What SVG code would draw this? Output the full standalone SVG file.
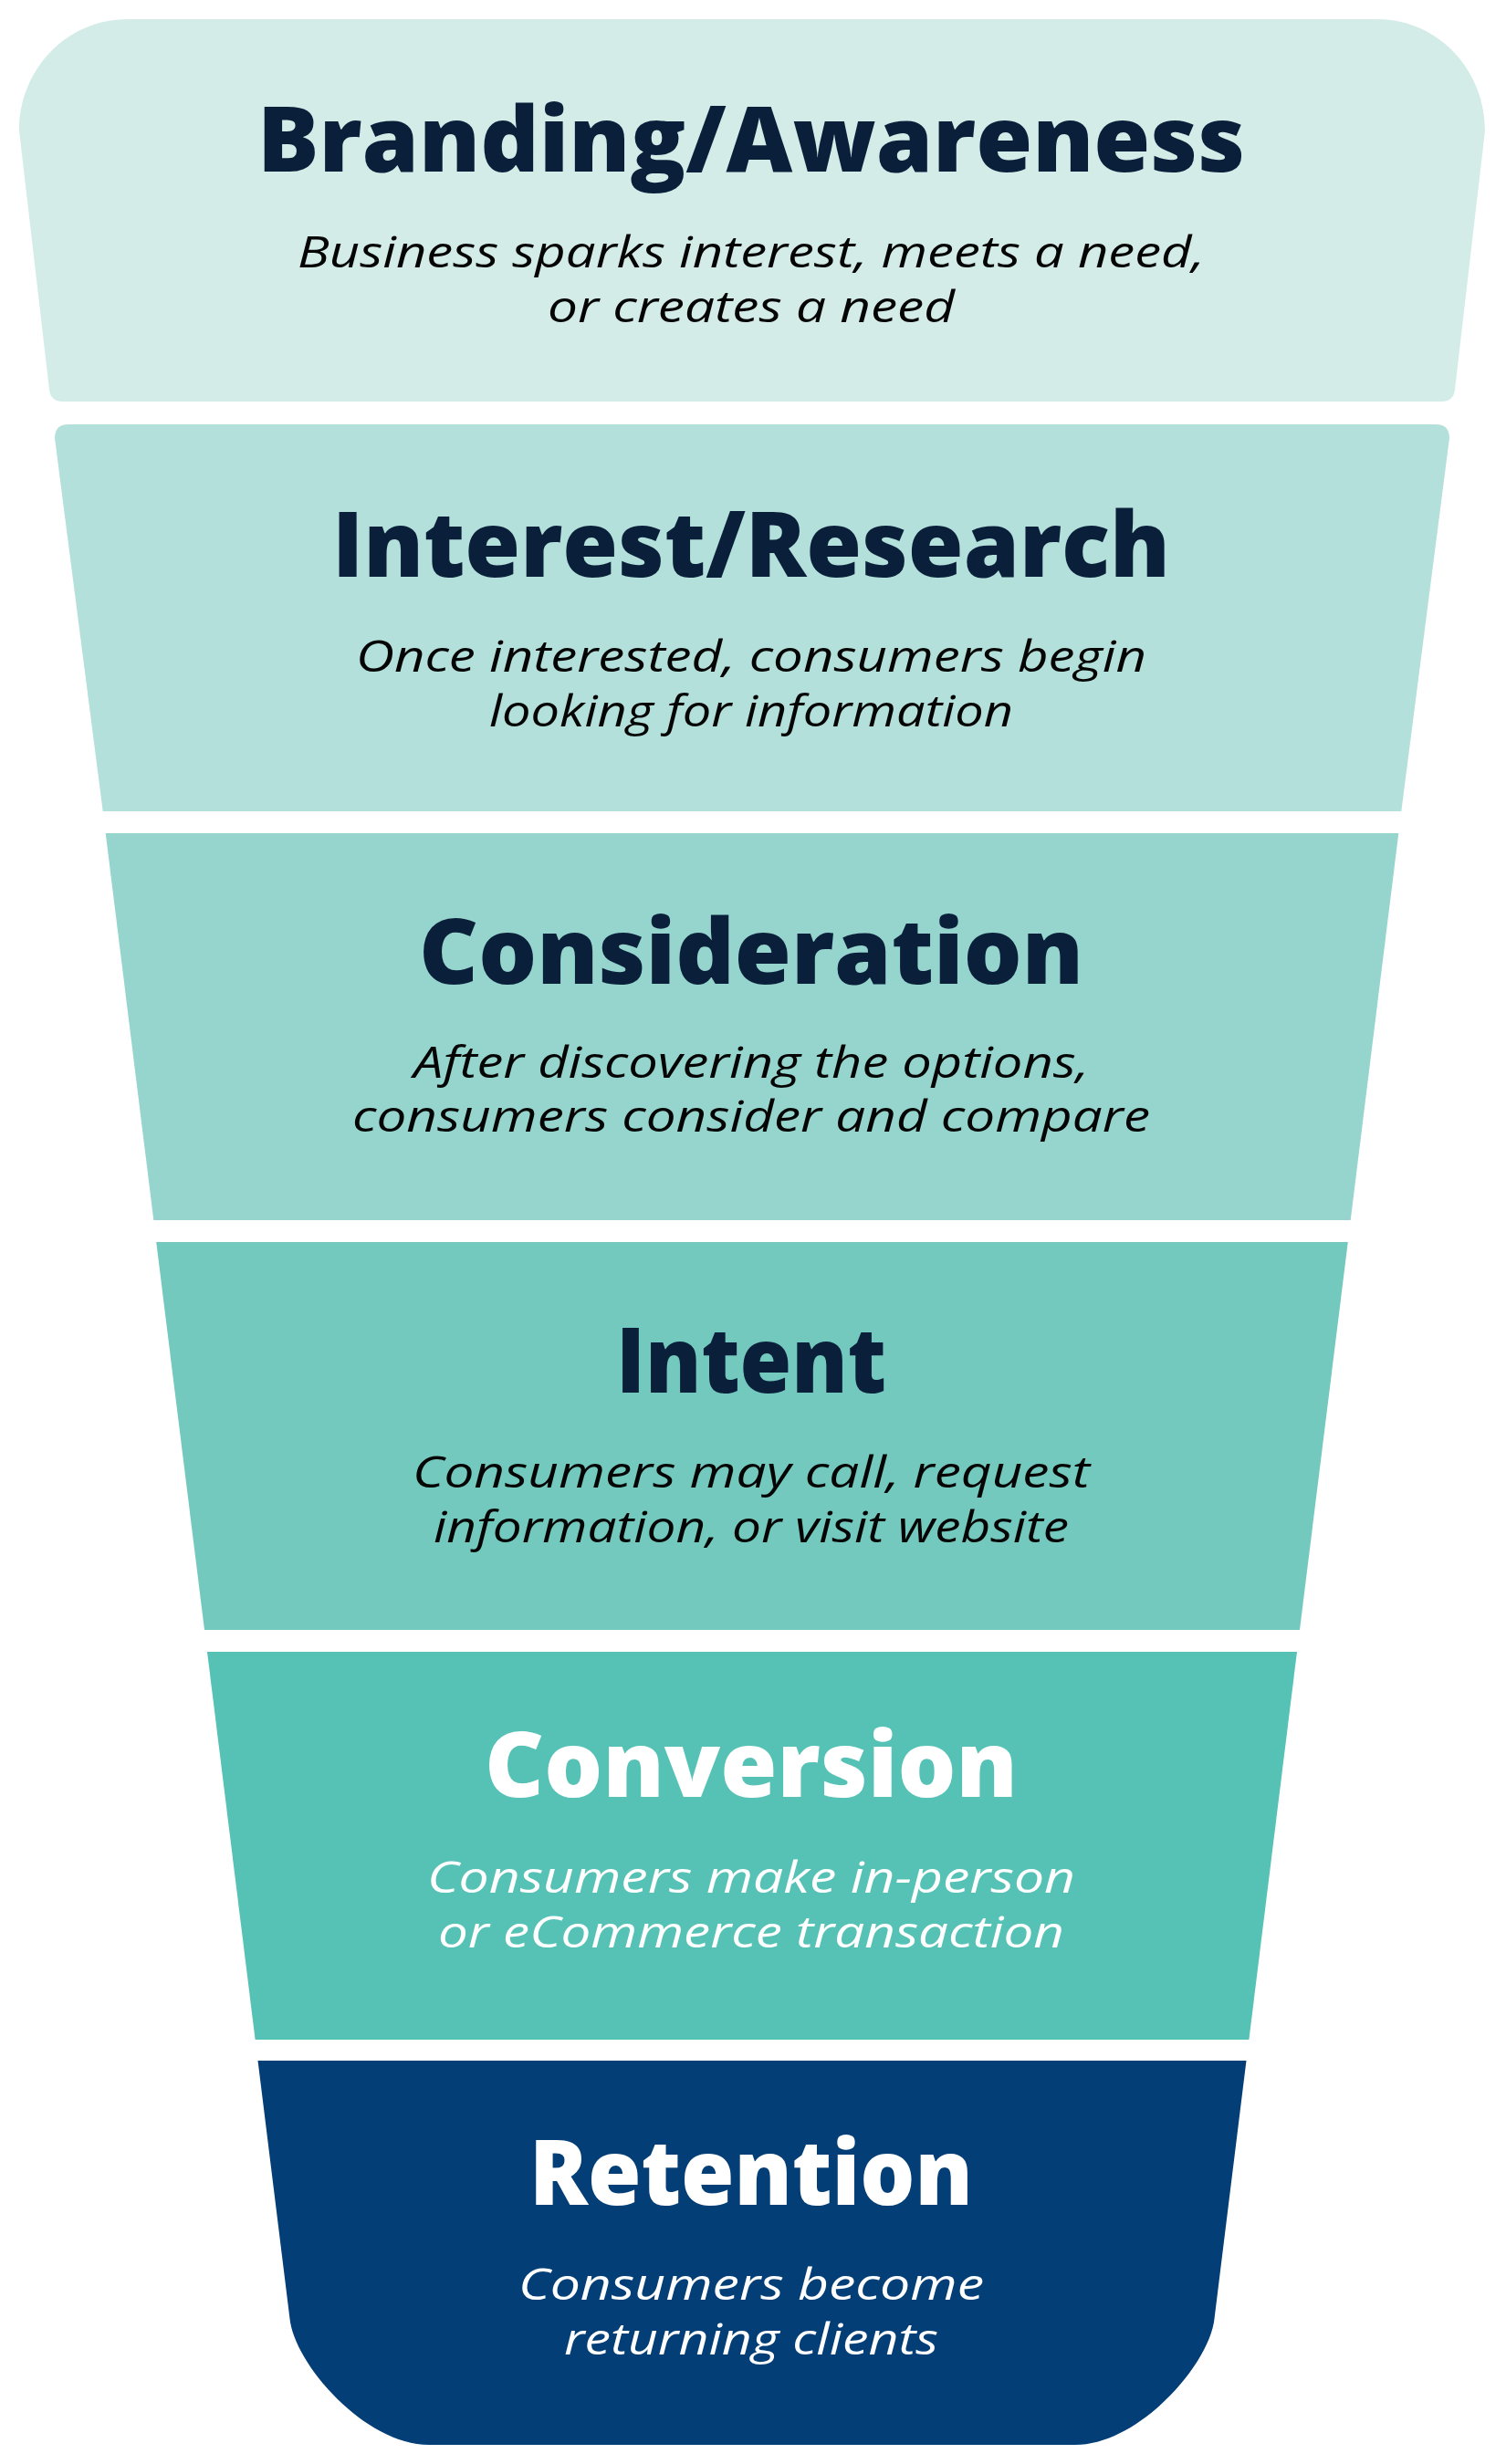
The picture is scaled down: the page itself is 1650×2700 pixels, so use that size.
<svg xmlns="http://www.w3.org/2000/svg" width="1650" height="2700" viewBox="0 0 1650 2700">
  <style>
    .title { font-family: "Open Sans", "Liberation Sans", sans-serif; font-weight: 800; font-size: 100px; fill: #0A1F3A; text-anchor: middle; }
    .sub { font-family: "Open Sans", "Liberation Sans", sans-serif; font-style: italic; font-weight: 400; font-size: 47px; fill: #050505; text-anchor: middle; }
    .light { fill: #FFFFFF; }
  </style>
  <rect x="0" y="0" width="1650" height="2700" fill="#FFFFFF"/>

  <g id="stage-branding">
    <path d="M140,21 L1508,21 C1575,21 1627,76 1627,143 L1594,427 Q1592.5,440 1579,440 L69,440 Q55.5,440 54,427 L21,143 C21,76 73,21 140,21 Z" fill="#D4ECE8"/>
    <text class="title" x="823" y="188" textLength="1082" lengthAdjust="spacingAndGlyphs">Branding/Awareness</text>
    <text class="sub" x="823" y="293" textLength="994" lengthAdjust="spacingAndGlyphs">Business sparks interest, meets a need,</text>
    <text class="sub" x="823" y="352.5" textLength="446" lengthAdjust="spacingAndGlyphs">or creates a need</text>
  </g>

  <g id="stage-interest">
    <path d="M60,480 Q60,465 75,465 L1573,465 Q1588,465 1588,480 L1535.3,889 L112.7,889 Z" fill="#B4E0DB"/>
    <text class="title" x="823" y="632" textLength="918" lengthAdjust="spacingAndGlyphs">Interest/Research</text>
    <text class="sub" x="823" y="736" textLength="866" lengthAdjust="spacingAndGlyphs">Once interested, consumers begin</text>
    <text class="sub" x="823" y="796" textLength="574" lengthAdjust="spacingAndGlyphs">looking for information</text>
  </g>

  <g id="stage-consideration">
    <path d="M115.7,913 L1532.3,913 L1479.7,1337 L168.3,1337 Z" fill="#96D5CE"/>
    <text class="title" x="823" y="1078" textLength="728" lengthAdjust="spacingAndGlyphs">Consideration</text>
    <text class="sub" x="823" y="1180.5" textLength="740" lengthAdjust="spacingAndGlyphs">After discovering the options,</text>
    <text class="sub" x="823" y="1239.5" textLength="874" lengthAdjust="spacingAndGlyphs">consumers consider and compare</text>
  </g>

  <g id="stage-intent">
    <path d="M171.2,1361 L1476.8,1361 L1424,1786 L224,1786 Z" fill="#74C9BE"/>
    <text class="title" x="823" y="1526" textLength="296" lengthAdjust="spacingAndGlyphs">Intent</text>
    <text class="sub" x="823" y="1630" textLength="742" lengthAdjust="spacingAndGlyphs">Consumers may call, request</text>
    <text class="sub" x="823" y="1690" textLength="696" lengthAdjust="spacingAndGlyphs">information, or visit website</text>
  </g>

  <g id="stage-conversion">
    <path d="M227,1810 L1421,1810 L1368.4,2235 L279.6,2235 Z" fill="#56C2B5"/>
    <text class="title light" x="823" y="1969" textLength="584" lengthAdjust="spacingAndGlyphs">Conversion</text>
    <text class="sub light" x="823" y="2074" textLength="710" lengthAdjust="spacingAndGlyphs">Consumers make in-person</text>
    <text class="sub light" x="823" y="2134" textLength="686" lengthAdjust="spacingAndGlyphs">or eCommerce transaction</text>
  </g>

  <g id="stage-retention">
    <path d="M282.5,2258 L1365.5,2258 L1330.6,2540 C1326,2590 1248,2679 1178,2679 L470,2679 C400,2679 322,2590 317.4,2540 Z" fill="#033E76"/>
    <text class="title light" x="823" y="2416" textLength="486" lengthAdjust="spacingAndGlyphs">Retention</text>
    <text class="sub light" x="823" y="2520" textLength="510" lengthAdjust="spacingAndGlyphs">Consumers become</text>
    <text class="sub light" x="823" y="2580" textLength="410" lengthAdjust="spacingAndGlyphs">returning clients</text>
  </g>

  <g id="connectors"/>
</svg>
